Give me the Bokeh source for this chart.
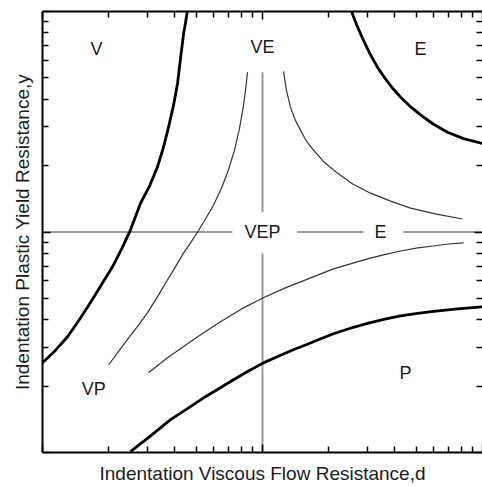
from bokeh.plotting import figure
from bokeh.models import Label, LogAxis, FixedTicker
from bokeh.embed import file_html
from bokeh.resources import INLINE

# ---- data (log-log axes) ----
# thick boundaries
bound_v_d = [0.455, 0.447, 0.438, 0.424, 0.411, 0.394, 0.374, 0.355, 0.333, 0.306,
             0.279, 0.251, 0.229, 0.208, 0.185, 0.165, 0.147, 0.130, 0.115, 0.100]
bound_v_y = [10.0, 8.92, 7.95, 6.13, 4.72, 3.75, 2.99, 2.43, 1.97, 1.61,
             1.35, 1.02, 0.838, 0.695, 0.575, 0.478, 0.400, 0.335, 0.292, 0.255]

bound_e_d = [2.54, 2.675, 2.878, 3.097, 3.332, 3.623, 3.940, 4.283, 4.707, 5.226,
             5.989, 6.934, 8.197, 10.0]
bound_e_y = [10.0, 8.735, 7.393, 6.364, 5.580, 4.945, 4.437, 4.049, 3.701, 3.398,
             3.081, 2.835, 2.651, 2.520]

bound_p_d = [0.251, 0.310, 0.382, 0.456, 0.540, 0.624, 0.716, 0.855, 1.01, 1.18, 1.38,
             1.60, 1.84, 2.10, 2.51, 3.00, 3.55, 4.24, 5.07, 5.99, 7.70, 10.0]
bound_p_y = [0.101, 0.119, 0.141, 0.158, 0.177, 0.193, 0.210, 0.233, 0.255, 0.2734, 0.2924,
             0.3097, 0.3281, 0.3455, 0.3659, 0.3855, 0.4018, 0.4168, 0.4278, 0.4368,
             0.4483, 0.4577]

# thin curves
thin_vp_d = [0.200, 0.221, 0.243, 0.270, 0.300, 0.333, 0.370, 0.402, 0.438, 0.471,
             0.507, 0.551, 0.599, 0.651, 0.700, 0.746, 0.786, 0.820, 0.837, 0.855]
thin_vp_y = [0.250, 0.286, 0.325, 0.372, 0.430, 0.508, 0.607, 0.695, 0.804, 0.892,
             1.00, 1.145, 1.325, 1.58, 1.91, 2.35, 2.95, 3.75, 4.39, 5.30]

thin_ve_d = [1.246, 1.285, 1.34, 1.41, 1.49, 1.585, 1.705, 1.91, 2.19, 2.57,
             3.10, 3.82, 4.71, 6.18, 8.11]
thin_ve_y = [5.35, 4.39, 3.68, 3.21, 2.89, 2.58, 2.35, 2.07, 1.85, 1.65,
             1.50, 1.38, 1.284, 1.206, 1.145]

thin_pe_d = [0.303, 0.370, 0.456, 0.540, 0.644, 0.803, 1.01, 1.27, 1.49, 1.84,
             2.10, 2.51, 3.00, 3.55, 4.24, 5.07, 5.99, 7.00, 8.20]
thin_pe_y = [0.230, 0.269, 0.311, 0.349, 0.392, 0.448, 0.503, 0.558, 0.594, 0.646,
             0.680, 0.717, 0.755, 0.787, 0.820, 0.847, 0.864, 0.882, 0.892]

# reference lines at d = 1 and y = 1 (segments, broken at the labels)
href_x0 = [0.1, 1.44, 4.37]
href_x1 = [0.73, 2.88, 10.0]
vref_y0 = [5.3, 0.80]
vref_y1 = [1.23, 0.1]

# region labels
region_text = ["V", "VE", "E", "VEP", "E", "VP", "P"]
region_d = [0.176, 1.0, 5.22, 1.0, 3.44, 0.171, 4.47]
region_y = [6.73, 6.87, 6.73, 1.0, 1.0, 0.195, 0.230]

x_label = "Indentation Viscous Flow Resistance,d"
y_label = "Indentation Plastic Yield Resistance,y"

FONT = "Liberation Sans"

p = figure(width=482, height=486, x_axis_type="log", y_axis_type="log",
           x_range=(0.1, 10), y_range=(0.1, 10),
           output_backend="svg", toolbar_location=None,
           min_border_left=42, min_border_top=11, min_border_right=0,
           min_border_bottom=33)
p.grid.visible = False
p.outline_line_color = None
p.background_fill_color = "white"
p.border_fill_color = "white"

major = [0.1, 1, 10]
minor = [k * 10.0 ** e for e in (-1, 0) for k in range(2, 10)]


def style_axis(ax, show_line=True):
    ax.ticker = FixedTicker(ticks=major, minor_ticks=minor)
    ax.major_label_text_font_size = "1px"
    ax.major_label_text_color = None
    ax.major_label_standoff = 0
    ax.major_tick_in = 8
    ax.major_tick_out = 0
    ax.minor_tick_in = 6
    ax.minor_tick_out = 0
    ax.major_tick_line_width = 1.5
    ax.minor_tick_line_width = 1.5
    ax.major_tick_line_color = "black"
    ax.minor_tick_line_color = "black"
    ax.axis_line_width = 2
    ax.axis_line_color = "black" if show_line else None


xa = p.xaxis[0]
ya = p.yaxis[0]
style_axis(xa)
style_axis(ya)
for ax, lab in [(xa, x_label), (ya, y_label)]:
    ax.axis_label = lab
    ax.axis_label_text_font = FONT
    ax.axis_label_text_font_size = "19px"
    ax.axis_label_text_font_style = "normal"
    ax.axis_label_text_color = "#1a1a1a"
    ax.axis_label_standoff = 10

top = LogAxis()
style_axis(top)
p.add_layout(top, "above")
right = LogAxis()
style_axis(right, show_line=False)
p.add_layout(right, "right")

# reference lines
GRAY = "#9a9a9a"
p.segment(x0=href_x0, y0=[1.0] * len(href_x0), x1=href_x1, y1=[1.0] * len(href_x1),
          line_color=GRAY, line_width=2)
p.segment(x0=[1.0] * len(vref_y0), y0=vref_y0, x1=[1.0] * len(vref_y1), y1=vref_y1,
          line_color=GRAY, line_width=2)

# thin curves
for xs, ys in [(thin_vp_d, thin_vp_y), (thin_ve_d, thin_ve_y), (thin_pe_d, thin_pe_y)]:
    p.line(xs, ys, line_color="#333333", line_width=1.2, line_join="round")

# thick curves
for xs, ys in [(bound_v_d, bound_v_y), (bound_e_d, bound_e_y), (bound_p_d, bound_p_y)]:
    p.line(xs, ys, line_color="black", line_width=2.8, line_join="round")

for t, dx, yy in zip(region_text, region_d, region_y):
    p.add_layout(Label(x=dx, y=yy, text=t, text_font=FONT, text_font_size="18px",
                       text_align="center", text_baseline="middle", text_color="#1a1a1a"))

open("out.html", "w").write(file_html(p, INLINE))
